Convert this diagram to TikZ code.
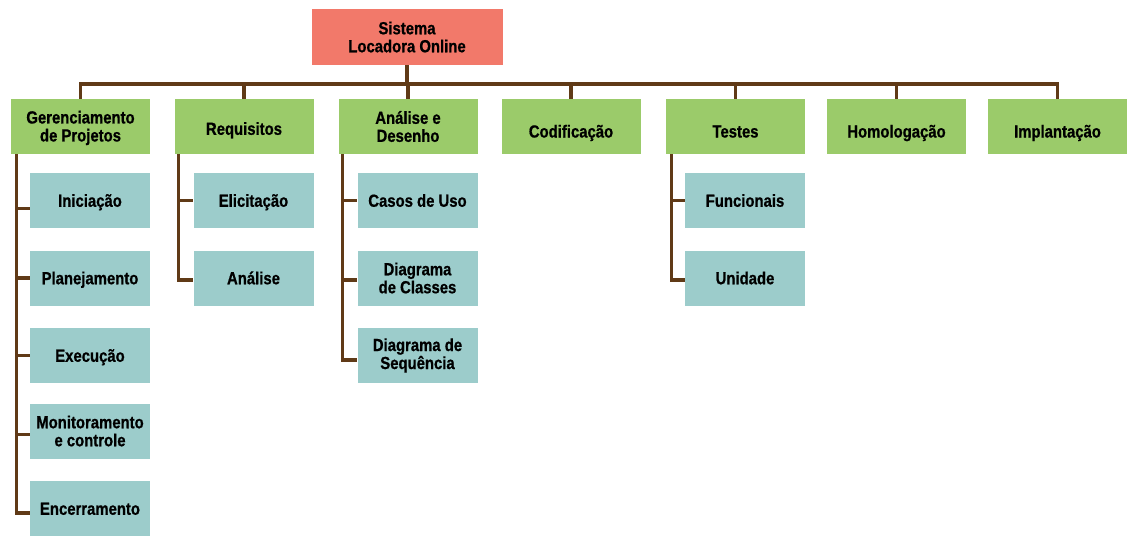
\documentclass[tikz,border=0pt]{standalone}
\usepackage{fontspec}
\setmainfont[FakeStretch=0.85,BoldFeatures={FakeBold=0.8}]{Liberation Sans}
\usepackage{tikz}
\usepackage{color}

\definecolor{raiz}{RGB}{242,121,106}
\definecolor{verde}{RGB}{155,203,106}
\definecolor{azul}{RGB}{156,204,203}
\definecolor{marrom}{RGB}{96,58,23}

\begin{document}
\begin{tikzpicture}[x=1pt,y=-1pt,
  caixa/.style={inner sep=0pt, align=center, minimum height=55pt,
    font=\fontsize{17.5}{18}\selectfont\bfseries},
  topo/.style={caixa, fill=raiz, minimum width=191pt, minimum height=56pt},
  fase/.style={caixa, fill=verde, minimum width=139pt},
  faseum/.style={fase, text height=22pt, text depth=0pt},
  tarefa/.style={caixa, fill=azul, minimum width=120pt},
  tarefaum/.style={tarefa, text height=12.5pt, text depth=0pt},
  ligacao/.style={draw=marrom, line width=3.2pt}]
\useasboundingbox (0,0) rectangle (1135,547);

% raiz
\node[topo] (sis) at (407,37) {Sistema\\Locadora Online};

% fases
\node[fase] (ger) at (80.5,126.5) {Gerenciamento\vphantom{Á}\\de Projetos};
\node[faseum, text height=16.6pt] (req) at (244,126.5) {Requisitos};
\node[fase] (ana) at (408,126.5) {Análise e\\Desenho};
\node[faseum] (cod) at (571,126.5) {Codificação};
\node[faseum] (tes) at (735.5,126.5) {Testes};
\node[faseum] (hom) at (896.5,126.5) {Homologação};
\node[faseum] (imp) at (1057.5,126.5) {Implantação};

% tarefas
\node[tarefaum] (ini) at (90,200.5) {Iniciação};
\node[tarefaum] (pla) at (90,278) {Planejamento};
\node[tarefaum] (exe) at (90,355.5) {Execução};
\node[tarefa] (mon) at (90,431) {Monitoramento\\e controle};
\node[tarefaum] (enc) at (90,508.5) {Encerramento};

\node[tarefaum] (eli) at (253.5,200.5) {Elicitação};
\node[tarefaum] (anl) at (253.5,278) {Análise};

\node[tarefaum] (cas) at (417.5,200.5) {Casos de Uso};
\node[tarefa] (dcl) at (417.5,278) {Diagrama\\de Classes};
\node[tarefa] (dsq) at (417.5,355.5) {Diagrama de\\Sequência};

\node[tarefaum] (fun) at (745,200.5) {Funcionais};
\node[tarefaum] (uni) at (745,278) {Unidade};

% barramento
\coordinate (bus) at (sis.south |- 0,84);
\draw[ligacao] (sis.south) -- (bus);
\draw[ligacao] (ger.north) |- (bus) -| (imp.north);
\draw[ligacao] (req.north) -- (req.north |- bus);
\draw[ligacao] (ana.north) -- (ana.north |- bus);
\draw[ligacao] (cod.north) -- (cod.north |- bus);
\draw[ligacao] (tes.north) -- (tes.north |- bus);
\draw[ligacao] (hom.north) -- (hom.north |- bus);

% ramos
\coordinate (gerL) at ([xshift=6pt]ger.south west);
\draw[ligacao] (gerL) |- ([yshift=-4.5pt]enc.west);
\draw[ligacao] (gerL |- 0,208.5) -- ([yshift=-8pt]ini.west);
\draw[ligacao] (gerL |- pla.west) -- (pla.west);
\draw[ligacao] (gerL |- exe.west) -- (exe.west);
\draw[ligacao] (gerL |- 0,434.5) -- ([yshift=-3.5pt]mon.west);

\coordinate (reqL) at ([xshift=4pt]req.south west);
\draw[ligacao] (reqL) |- ([yshift=-2pt]anl.west);
\draw[ligacao] (reqL |- eli.west) -- (eli.west);

\coordinate (anaL) at ([xshift=4pt]ana.south west);
\draw[ligacao] (anaL) |- ([yshift=-4.5pt]dsq.west);
\draw[ligacao] (anaL |- cas.west) -- (cas.west);
\draw[ligacao] (anaL |- 0,280) -- ([yshift=-2pt]dcl.west);

\coordinate (tesL) at ([xshift=6pt]tes.south west);
\draw[ligacao] (tesL) |- ([yshift=-2pt]uni.west);
\draw[ligacao] (tesL |- fun.west) -- (fun.west);
\end{tikzpicture}
\end{document}
